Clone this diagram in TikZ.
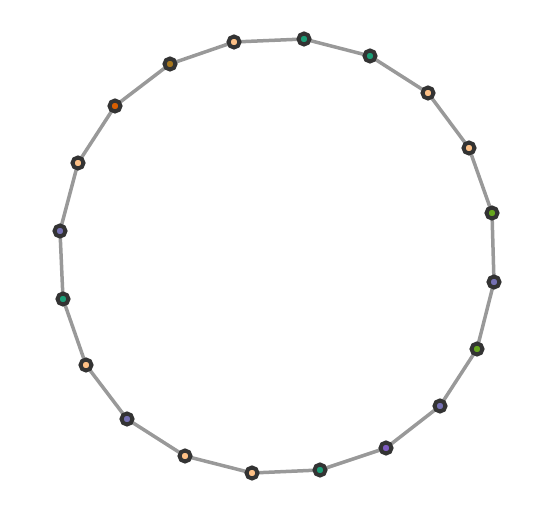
\documentclass[tikz,border=0pt]{standalone}
\usepackage{xcolor}
\usetikzlibrary{positioning,backgrounds}
\definecolor{ringgreen}{HTML}{1B9E77}
\definecolor{ringlime}{HTML}{66A61E}
\definecolor{ringpeach}{HTML}{FDC086}
\definecolor{ringpurple}{HTML}{7570B3}
\definecolor{ringviolet}{HTML}{7E5CC0}
\definecolor{ringorange}{HTML}{D95F02}
\definecolor{ringolive}{HTML}{A6761D}
\definecolor{ringrim}{HTML}{333333}
\definecolor{ringline}{HTML}{999999}
\tikzset{%
	dotnode/.style={circle, draw=ringrim, line width=4pt, minimum size=11pt, inner sep=0pt, fill=#1},
	ringedge/.style={draw=ringline, line width=3.5pt}
}

\begin{document}
\begin{tikzpicture}[x=1pt,y=-1pt]
		\useasboundingbox (0,0) rectangle (560,526);
		\node[dotnode=ringgreen] (v1) at (304,39) {};
		\node[dotnode=ringgreen] (v2) at (370,56) {};
		\node[dotnode=ringpeach] (v3) at (428,93) {};
		\node[dotnode=ringpeach] (v4) at (469,148) {};
		\node[dotnode=ringlime] (v5) at (492,213) {};
		\node[dotnode=ringpurple] (v6) at (494,282) {};
		\node[dotnode=ringlime] (v7) at (477,349) {};
		\node[dotnode=ringpurple] (v8) at (440,406) {};
		\node[dotnode=ringviolet] (v9) at (386,448) {};
		\node[dotnode=ringgreen] (v10) at (320,470) {};
		\node[dotnode=ringpeach] (v11) at (252,473) {};
		\node[dotnode=ringpeach] (v12) at (185,456) {};
		\node[dotnode=ringpurple] (v13) at (127,419) {};
		\node[dotnode=ringpeach] (v14) at (86,365) {};
		\node[dotnode=ringgreen] (v15) at (63,299) {};
		\node[dotnode=ringpurple] (v16) at (60,231) {};
		\node[dotnode=ringpeach] (v17) at (78,163) {};
		\node[dotnode=ringorange] (v18) at (115,106) {};
		\node[dotnode=ringolive] (v19) at (170,64) {};
		\node[dotnode=ringpeach] (v20) at (234,42) {};
		
		% ring edges behind the nodes
		\begin{pgfonlayer}{background}
		\foreach \i/\j in {1/2,2/3,3/4,4/5,5/6,6/7,7/8,8/9,9/10,10/11,11/12,12/13,13/14,14/15,15/16,16/17,17/18,18/19,19/20,20/1}
			\path[ringedge] (v\i.center) -- (v\j.center);
		\end{pgfonlayer}
	\end{tikzpicture}
\end{document}
